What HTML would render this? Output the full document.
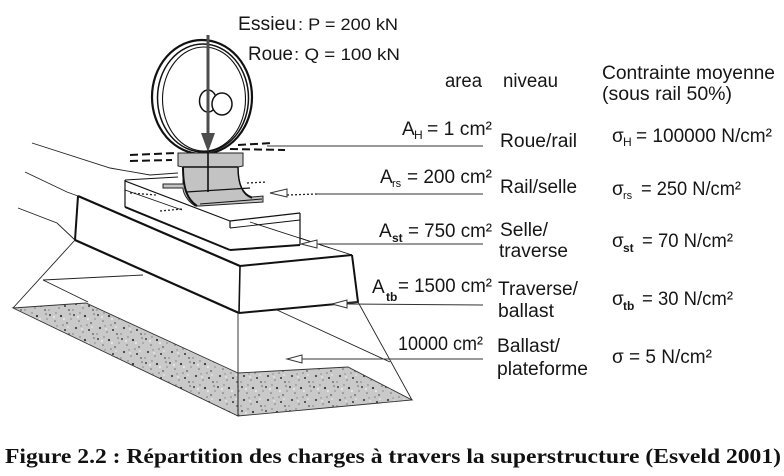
<!DOCTYPE html>
<html><head><meta charset="utf-8"><style>
html,body{margin:0;padding:0;background:#fff;}
svg{display:block;}
text{font-family:"Liberation Sans",Arial,sans-serif;fill:#161616;}
.cap{font-family:"Liberation Serif","Times New Roman",serif;font-weight:bold;fill:#111;}
</style></head><body>
<svg width="784" height="476" viewBox="0 0 784 476" xmlns="http://www.w3.org/2000/svg">
<defs>
<pattern id="sp" width="24" height="24" patternUnits="userSpaceOnUse">
<rect width="24" height="24" fill="#c9c9c9"/>
<circle cx="2" cy="3" r="1" fill="#444"/>
<circle cx="7" cy="9" r="0.8" fill="#666"/>
<circle cx="13" cy="4" r="1.1" fill="#333"/>
<circle cx="19" cy="11" r="0.9" fill="#555"/>
<circle cx="4" cy="16" r="1.1" fill="#444"/>
<circle cx="11" cy="20" r="0.8" fill="#777"/>
<circle cx="17" cy="18" r="1" fill="#333"/>
<circle cx="22" cy="2" r="0.8" fill="#666"/>
<circle cx="9" cy="14" r="0.7" fill="#888"/>
<circle cx="15" cy="13" r="0.8" fill="#777"/>
<circle cx="21" cy="22" r="0.9" fill="#555"/>
<circle cx="1" cy="22" r="0.7" fill="#777"/>
<circle cx="8" cy="1" r="0.6" fill="#555"/>
<circle cx="23" cy="7" r="0.6" fill="#666"/>
<circle cx="6" cy="5" r="1.1" fill="#e6e6e6"/>
<circle cx="16" cy="7" r="1.1" fill="#e8e8e8"/>
<circle cx="10" cy="17" r="1" fill="#e2e2e2"/>
<circle cx="20" cy="15" r="0.9" fill="#e6e6e6"/>
</pattern>
</defs>

<!-- ballast -->
<polygon points="13,308 86,303 238,373 238,416" fill="url(#sp)" stroke="#333" stroke-width="0.9"/>
<polygon points="238,373 348,367 412,400 238,416" fill="url(#sp)" stroke="#333" stroke-width="0.9"/>

<!-- pyramid / embankment thin lines -->
<g stroke="#222" stroke-width="0.9" fill="none">
<line x1="75" y1="240" x2="13" y2="308"/>
<line x1="43" y1="280" x2="143" y2="275"/>
<line x1="43" y1="280" x2="88" y2="302"/>
<line x1="238" y1="313" x2="238" y2="416"/>
<line x1="358" y1="302" x2="412" y2="400"/>
<line x1="277" y1="310" x2="390" y2="362"/>
<polyline points="32,143 110,168 150,175 178,173"/>
<polyline points="25,172 67,192 78,196"/>
<polyline points="18,208 57,223 75,240"/>
</g>

<!-- sleeper -->
<g stroke="#111" fill="none" stroke-linejoin="round">
<line x1="78" y1="196" x2="240" y2="266" stroke-width="2.2"/>
<line x1="240" y1="266" x2="239" y2="313" stroke-width="1.6"/>
<line x1="75" y1="240" x2="239" y2="313" stroke-width="2.2"/>
<line x1="78" y1="196" x2="75" y2="240" stroke-width="2"/>
<line x1="240" y1="266" x2="352" y2="255" stroke-width="2"/>
<line x1="352" y1="255" x2="358" y2="302" stroke-width="2"/>
<line x1="239" y1="313" x2="358" y2="302" stroke-width="2"/>
<!-- plate -->
<line x1="125" y1="207" x2="230" y2="250" stroke-width="2"/>
<line x1="230" y1="250" x2="300" y2="245" stroke-width="2"/>
<line x1="300" y1="213" x2="300" y2="245" stroke-width="1.2"/>
<line x1="125" y1="181" x2="230" y2="221" stroke-width="1.1"/>
<line x1="125" y1="190" x2="182" y2="210" stroke-width="0.8"/>
<line x1="230" y1="221" x2="300" y2="213" stroke-width="1.2"/>
<line x1="230" y1="221" x2="230" y2="228" stroke-width="1.2"/>
<line x1="230" y1="228" x2="300" y2="220" stroke-width="0.9"/>
<line x1="125" y1="180" x2="125" y2="207" stroke-width="1.2"/>
<line x1="125" y1="180" x2="178" y2="177" stroke-width="1"/>
<line x1="250" y1="222" x2="352" y2="255" stroke-width="0.8"/>
<line x1="300" y1="238" x2="330" y2="248" stroke-width="0.8"/>
</g>

<!-- wheel -->
<g fill="none" stroke="#111">
<ellipse cx="202" cy="97" rx="50" ry="57" stroke-width="2.2" fill="#fff"/>
<ellipse cx="203" cy="98" rx="45.5" ry="54" stroke-width="1.5"/>
<ellipse cx="204" cy="99" rx="41.5" ry="52" stroke-width="1.1"/>
<ellipse cx="208" cy="101" rx="8.5" ry="11" stroke-width="1.5"/>
<ellipse cx="222" cy="104" rx="10" ry="11" stroke-width="1.5" fill="#fff"/>
</g>

<!-- dashed contact lines -->
<g stroke="#111" stroke-width="2" stroke-dasharray="8 4" fill="none">
<line x1="130" y1="155" x2="176" y2="153"/>
<line x1="130" y1="161" x2="172" y2="160"/>
<line x1="238" y1="145" x2="272" y2="143"/>
<line x1="230" y1="149" x2="285" y2="150"/>
</g>

<!-- rail -->
<path d="M178,153 L243,153 L243,166 L238,167 C238,184 243,194 252,197 L263,196 L263,202 L200,206 L195,206 C186,200 183,192 183,188 L163,188 L163,184 L183,184 L183,167 L178,166 Z" fill="#c3c3c3" stroke="#222" stroke-width="1"/>
<g stroke="#111" fill="none">
<line x1="183" y1="167" x2="238" y2="167" stroke-width="1.6"/>
<path d="M183,167 C183,190 188,200 197,206" stroke-width="2"/>
<path d="M238,167 C238,185 243,195 252,198" stroke-width="1.5"/>
<line x1="186" y1="192" x2="250" y2="188" stroke-width="1.3"/>
<line x1="200" y1="204" x2="262" y2="199" stroke-width="1"/>
<line x1="208" y1="150" x2="208" y2="192" stroke-width="1.6"/>
</g>

<!-- load arrow -->
<line x1="208" y1="35" x2="208" y2="136" stroke="#4d4d4d" stroke-width="3"/>
<polygon points="201,133 215,133 208,152" fill="#4d4d4d"/>

<!-- dotted bits -->
<g stroke="#222" stroke-width="1.3" stroke-dasharray="2 2" fill="none">
<line x1="247" y1="183" x2="267" y2="182"/>
<line x1="287" y1="195" x2="317" y2="194"/>
<line x1="160" y1="211" x2="182" y2="209"/>
<line x1="130" y1="193" x2="156" y2="195"/>
</g>

<!-- leader lines and open arrowheads -->
<g stroke="#333" stroke-width="1" fill="#fff">
<line x1="267" y1="146" x2="483" y2="146"/>
<line x1="317" y1="194" x2="483" y2="194"/>
<polygon points="270,193 287,189 287,197"/>
<line x1="317" y1="244" x2="483" y2="244"/>
<polygon points="301,244 317,240 317,248"/>
<line x1="347" y1="304" x2="483" y2="305"/>
<line x1="347" y1="303" x2="358" y2="302"/>
<polygon points="332,304 347,300 347,308"/>
<line x1="302" y1="359" x2="483" y2="359"/>
<polygon points="287,359 302,355 302,363"/>
</g>

<!-- top labels -->
<text x="238" y="30" font-size="19" textLength="58" lengthAdjust="spacingAndGlyphs">Essieu</text>
<text x="298" y="30" font-size="17" textLength="100" lengthAdjust="spacingAndGlyphs">: P = 200 kN</text>
<text x="248" y="60" font-size="19" textLength="45" lengthAdjust="spacingAndGlyphs">Roue</text>
<text x="294" y="60" font-size="17" textLength="106" lengthAdjust="spacingAndGlyphs">: Q = 100 kN</text>

<!-- headers -->
<text x="445" y="87" font-size="19" textLength="37" lengthAdjust="spacingAndGlyphs">area</text>
<text x="503" y="87" font-size="19" textLength="55" lengthAdjust="spacingAndGlyphs">niveau</text>
<text x="602" y="79" font-size="19" textLength="173" lengthAdjust="spacingAndGlyphs">Contrainte moyenne</text>
<text x="602" y="100" font-size="19" textLength="130" lengthAdjust="spacingAndGlyphs">(sous rail 50%)</text>

<!-- row H -->
<text x="402" y="135" font-size="19">A</text>
<text x="414" y="139" font-size="12">H</text>
<text x="427" y="135" font-size="19" textLength="65" lengthAdjust="spacingAndGlyphs">= 1 cm²</text>
<text x="500" y="147" font-size="19" textLength="77" lengthAdjust="spacingAndGlyphs">Roue/rail</text>
<text x="612" y="142" font-size="19">σ</text>
<text x="623" y="146" font-size="12">H</text>
<text x="636" y="142" font-size="19" textLength="136" lengthAdjust="spacingAndGlyphs">= 100000 N/cm²</text>

<!-- row rs -->
<text x="380" y="183" font-size="19">A</text>
<text x="392" y="187" font-size="11">rs</text>
<text x="407" y="183" font-size="19" textLength="85" lengthAdjust="spacingAndGlyphs">= 200 cm²</text>
<text x="500" y="193" font-size="19" textLength="77" lengthAdjust="spacingAndGlyphs">Rail/selle</text>
<text x="612" y="195" font-size="19">σ</text>
<text x="623" y="199" font-size="11">rs</text>
<text x="641" y="195" font-size="19" textLength="100" lengthAdjust="spacingAndGlyphs">= 250 N/cm²</text>

<!-- row st -->
<text x="379" y="237" font-size="19">A</text>
<text x="392" y="242" font-size="12" font-weight="bold">st</text>
<text x="408" y="237" font-size="19" textLength="84" lengthAdjust="spacingAndGlyphs">= 750 cm²</text>
<text x="500" y="236" font-size="19" textLength="48" lengthAdjust="spacingAndGlyphs">Selle/</text>
<text x="499" y="257" font-size="19" textLength="69" lengthAdjust="spacingAndGlyphs">traverse</text>
<text x="612" y="247" font-size="19">σ</text>
<text x="623" y="252" font-size="12" font-weight="bold">st</text>
<text x="642" y="247" font-size="19" textLength="91" lengthAdjust="spacingAndGlyphs">= 70 N/cm²</text>

<!-- row tb -->
<text x="372" y="293" font-size="19">A</text>
<text x="386" y="301" font-size="12" font-weight="bold">tb</text>
<text x="398" y="292" font-size="19" textLength="94" lengthAdjust="spacingAndGlyphs">= 1500 cm²</text>
<text x="498" y="295" font-size="19" textLength="80" lengthAdjust="spacingAndGlyphs">Traverse/</text>
<text x="498" y="317" font-size="19" textLength="56" lengthAdjust="spacingAndGlyphs">ballast</text>
<text x="612" y="305" font-size="19">σ</text>
<text x="623" y="310" font-size="12" font-weight="bold">tb</text>
<text x="642" y="305" font-size="19" textLength="91" lengthAdjust="spacingAndGlyphs">= 30 N/cm²</text>

<!-- row ballast -->
<text x="398" y="350" font-size="19" textLength="85" lengthAdjust="spacingAndGlyphs">10000 cm²</text>
<text x="497" y="352" font-size="19" textLength="63" lengthAdjust="spacingAndGlyphs">Ballast/</text>
<text x="497" y="375" font-size="19" textLength="91" lengthAdjust="spacingAndGlyphs">plateforme</text>
<text x="612" y="363" font-size="19" textLength="100" lengthAdjust="spacingAndGlyphs">σ = 5 N/cm²</text>

<!-- caption -->
<text class="cap" x="5" y="463" font-size="21" textLength="776" lengthAdjust="spacingAndGlyphs">Figure 2.2 : Répartition des charges à travers la superstructure (Esveld 2001)</text>
</svg>
</body></html>
